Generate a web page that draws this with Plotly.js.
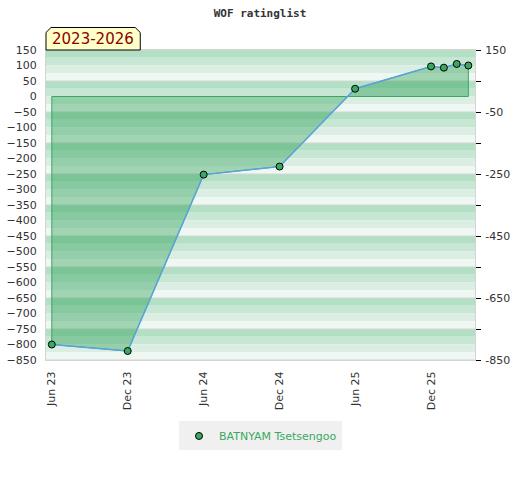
<!DOCTYPE html>
<html>
<head>
<meta charset="utf-8">
<script src="https://cdn.plot.ly/plotly-3.0.1.min.js"></script>
<style>html,body{margin:0;padding:0;background:#fff;}#chart{width:520px;height:480px;}</style>
</head>
<body>
<div id="chart"></div>
<script>
// ---- data ----
var dates = ['2023-06-01','2023-12-01','2024-06-01','2024-12-01','2025-06-01','2025-12-01','2026-01-01','2026-02-01','2026-03-01'];
var ratings = [-800, -821, -252, -226, 25, 97, 93, 105, 100];
var playerName = 'BATNYAM Tsetsengoo';
var xTickVals = ['2023-06-01','2023-12-01','2024-06-01','2024-12-01','2025-06-01','2025-12-01'];
var xTickText = ['Jun 23','Dec 23','Jun 24','Dec 24','Jun 25','Dec 25'];
var leftTickVals = [150,100,50,0,-50,-100,-150,-200,-250,-300,-350,-400,-450,-500,-550,-600,-650,-700,-750,-800,-850];
var rightTickVals = [150,50,-50,-150,-250,-350,-450,-550,-650,-750,-850];
var rightTickText = ['150','','-50','','-250','','-450','','-650','','-850'];
var periodLabel = '2023-2026';
var chartTitle = 'WOF ratinglist';

// ---- background stripes ----
var stripeColors = ['#b3dfc5','#c7e7d4','#dceee3','#eef7f2'];
var shapes = [];
for (var bandTop = 150; bandTop > -850; bandTop -= 100) {
  for (var k = 0; k < 4; k++) {
    shapes.push({type:'rect', xref:'paper', yref:'paper', x0:0, x1:1,
      y0: (bandTop - 25*(k+1) + 850) / 1000, y1: (bandTop - 25*k + 850) / 1000, fillcolor: stripeColors[k],
      line:{width:0}, layer:'below'});
  }
}
// gridlines every 100 (drawn as thin shapes above stripes)
for (var g = 150; g >= -850; g -= 100) {
  shapes.push({type:'line', xref:'paper', yref:'paper', x0:0, x1:1, y0:(g+850)/1000, y1:(g+850)/1000,
    line:{color:'#d6d6d6', width:1.2}, layer:'below'});
}
// label box with chamfered top corners (paper coords)
var bx0 = 0, bx1 = 0.2197, by0 = 1.0, by1 = 1.0726, cx = 0.0117, cy = 0.0161;
shapes.push({type:'path', xref:'paper', yref:'paper',
  path: 'M '+bx0+' '+by0+' L '+bx0+' '+(by1-cy)+' L '+(bx0+cx)+' '+by1+' L '+(bx1-cx)+' '+by1+' L '+bx1+' '+(by1-cy)+' L '+bx1+' '+by0+' Z',
  fillcolor:'#ffffc8', line:{color:'#000', width:1}, layer:'above'});

// fill polygon from data
var fillX = [dates[0]].concat(dates, [dates[dates.length-1], dates[0]]);
var fillY = [0].concat(ratings, [0, 0]);

var traces = [
  {x: fillX, y: fillY, type:'scatter', mode:'lines', fill:'toself',
   fillcolor:'rgba(18,146,62,0.35)', line:{color:'#3aa860', width:1},
   showlegend:false, hoverinfo:'skip'},
  {x: dates, y: ratings, type:'scatter', mode:'lines',
   line:{color:'#5aa3dc', width:1.5}, showlegend:false},
  {x: dates, y: ratings, type:'scatter', mode:'markers', name: playerName,
   marker:{color:'#3aa860', size:7, line:{color:'#000', width:1}}},
  {x: [dates[0]], y: [ratings[0]], yaxis:'y2', type:'scatter', mode:'markers',
   marker:{opacity:0}, showlegend:false, hoverinfo:'skip'}
];

var tickFont = {family:'DejaVu Sans, Verdana, sans-serif', size:11, color:'#333'};
var layout = {
  width:520, height:480,
  margin:{l:46, r:45, t:50, b:120, pad:0},
  paper_bgcolor:'#fff', plot_bgcolor:'rgba(0,0,0,0)',
  title:{text: chartTitle, x:0.5, xanchor:'center', y:0.973, yanchor:'middle',
         font:{family:'DejaVu Sans Mono, monospace', size:11, color:'#333', weight:'bold'}},
  xaxis:{type:'date', range:['2023-05-18','2026-03-17'], tickvals:xTickVals, ticktext:xTickText,
         tickangle:-90, ticks:'', showgrid:false, zeroline:false, tickfont:tickFont,
         showline:true, linecolor:'#d4d4d4', linewidth:1, mirror:true, ticklabelstandoff:6},
  yaxis:{range:[-850,150], tickvals:leftTickVals, ticks:'', showgrid:false, zeroline:false,
         tickfont:tickFont, showline:true, linecolor:'#d4d4d4', linewidth:1, mirror:true,
         ticklabelstandoff:6},
  yaxis2:{range:[-850,150], overlaying:'y', side:'right', tickvals:rightTickVals, ticktext:rightTickText,
          ticks:'outside', ticklen:5, tickcolor:'#000', showgrid:false,
          zeroline:false, tickfont:tickFont, showline:false, ticklabelstandoff:2},
  shapes: shapes,
  annotations:[{text: periodLabel, xref:'paper', yref:'paper', x:(bx0+bx1)/2, y:(by0+by1)/2,
    xanchor:'center', yanchor:'middle', showarrow:false,
    font:{family:'DejaVu Sans, Verdana, sans-serif', size:15, color:'#8b0000'}}],
  legend:{orientation:'h', x:0.5, xanchor:'center', y:-0.245, yanchor:'middle',
          bgcolor:'#f0f0f0', font:{family:'DejaVu Sans, Verdana, sans-serif', size:11, color:'#3aa860'},
          itemwidth:30},
  showlegend:true
};
Plotly.newPlot('chart', traces, layout, {displayModeBar:false, staticPlot:true});
</script>
</body>
</html>
